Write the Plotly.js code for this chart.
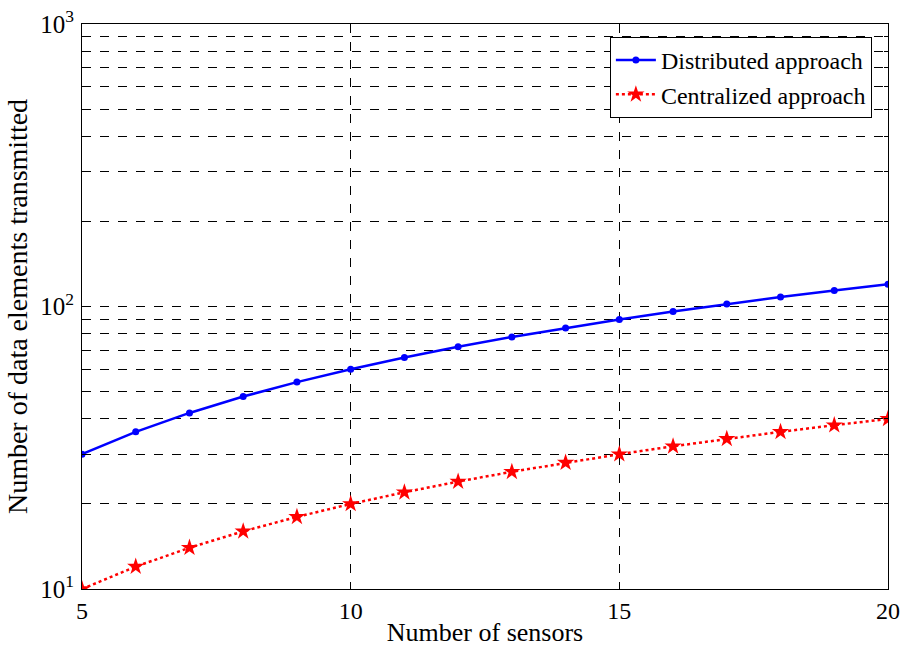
<!DOCTYPE html>
<html>
<head>
<meta charset="utf-8">
<script src="https://cdn.plot.ly/plotly-3.0.1.min.js"></script>
<style>html,body{margin:0;padding:0;background:#fff;}</style>
</head>
<body>
<div id="chart" style="width:904px;height:649px;"></div>
<script>
const sensors = [5,6,7,8,9,10,11,12,13,14,15,16,17,18,19,20];
const distributed = [30,36,42,48,54,60,66,72,78,84,90,96,102,108,114,120];
const centralized = [10,12,14,16,18,20,22,24,26,28,30,32,34,36,38,40];
const yTickVals = [10,100,1000];
const yTickText = ['10<sup>1</sup>','10<sup>2</sup>','10<sup>3</sup>'];
const yMinorVals = [20,30,40,50,60,70,80,90,200,300,400,500,600,700,800,900];
const xTickVals = [5,10,15,20];

const fam = '"Liberation Serif", "Times New Roman", serif';
const f = (s) => ({family:fam, size:s, color:'#000'});

const traces = [
  {x:sensors, y:distributed, name:'Distributed approach', mode:'lines+markers',
   line:{color:'#0000ff', width:2.5}, marker:{symbol:'circle', size:7, color:'#0000ff'}},
  {x:sensors, y:centralized, name:'Centralized approach', mode:'lines+markers',
   line:{color:'#ff0000', width:2.5, dash:'dot'}, marker:{symbol:'star', size:13, color:'#ff0000'}}
];

const layout = {
  width:904, height:649,
  margin:{l:82, r:16, t:24, b:60},
  paper_bgcolor:'#fff', plot_bgcolor:'#fff',
  font:f(24),
  showlegend:true,
  legend:{x:0.98, xanchor:'right', y:0.977, yanchor:'top', bgcolor:'#fff',
          bordercolor:'#000', borderwidth:1, font:f(24),
          tracegroupgap:0, itemwidth:40},
  xaxis:{range:[5,20], tickvals:xTickVals, ticks:'inside', ticklen:6, tickcolor:'#000',
         mirror:'ticks', showline:true, linecolor:'#000', linewidth:1,
         showgrid:true, gridcolor:'#000', griddash:'dash', gridwidth:1, zeroline:false,
         tickfont:f(24),
         title:{text:'Number of sensors', font:f(26), standoff:0}},
  yaxis:{type:'log', range:[1,3], tickmode:'array', tickvals:yTickVals, ticktext:yTickText,
         ticks:'inside', ticklen:6, tickcolor:'#000', mirror:'ticks',
         showline:true, linecolor:'#000', linewidth:1,
         showgrid:true, gridcolor:'#000', griddash:'dash', gridwidth:1, zeroline:false,
         tickfont:f(25), ticklabelstandoff:2,
         minor:{tickmode:'array', tickvals:yMinorVals, ticks:'inside', ticklen:4, tickcolor:'#000',
                showgrid:true, gridcolor:'#000', griddash:'dash', gridwidth:1},
         title:{text:'Number of data elements transmitted', font:f(28), standoff:4}}
};

Plotly.newPlot('chart', traces, layout, {displayModeBar:false, staticPlot:true});
</script>
</body>
</html>
